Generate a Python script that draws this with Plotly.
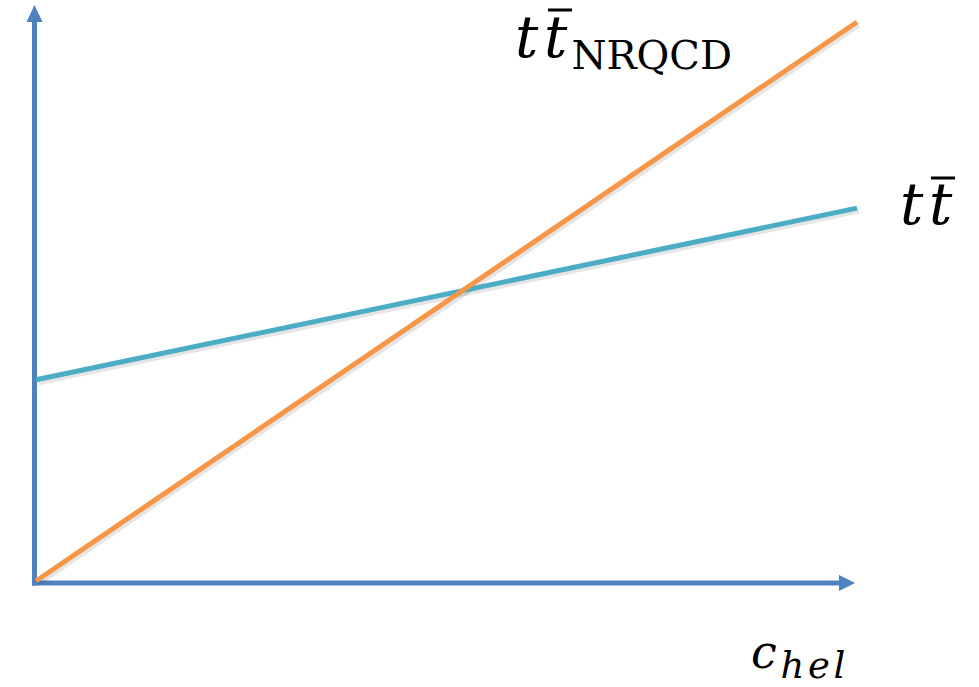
import plotly.graph_objects as go

# data (x in 0..1 units of c_hel, y in arbitrary units)
x_vals = [0.0, 1.0]
tt_nrqcd = [0.0, 1.0]
tt = [0.36, 0.667]

W, H = 979, 687
# pixel mapping: x=0 -> 36px, x=1 -> 857px ; y=0 -> 581px, y=1 -> 22px
x0p, x1p = 36, 857
y0p, y1p = 581, 22
sx = x1p - x0p
sy = y0p - y1p
xr = [-x0p / sx, (W - x0p) / sx]
yr = [-(H - y0p) / sy, y0p / sy]

def px(p):
    return (p - x0p) / sx

def py(p):
    return (y0p - p) / sy

AX = "#4F81BD"
ORANGE = "#F79646"
TEAL = "#4BACC6"

fig = go.Figure()
# faint shadows
fig.add_trace(go.Scatter(x=[v + 2 / sx for v in x_vals], y=[v - 3 / sy for v in tt_nrqcd], mode="lines",
                         line=dict(color="rgba(0,0,0,0.10)", width=5), hoverinfo="skip", showlegend=False))
fig.add_trace(go.Scatter(x=[v + 2 / sx for v in x_vals], y=[v - 3 / sy for v in tt], mode="lines",
                         line=dict(color="rgba(0,0,0,0.10)", width=5), hoverinfo="skip", showlegend=False))
fig.add_trace(go.Scatter(x=x_vals, y=tt, mode="lines", line=dict(color=TEAL, width=5),
                         name="tt", showlegend=False))
fig.add_trace(go.Scatter(x=x_vals, y=tt_nrqcd, mode="lines", line=dict(color=ORANGE, width=5),
                         name="tt NRQCD", showlegend=False))

shapes = []
# axes
shapes.append(dict(type="line", x0=px(34.5), x1=px(34.5), y0=py(585.5), y1=py(20),
                   line=dict(color=AX, width=5), layer="below"))
shapes.append(dict(type="line", x0=px(32), x1=px(842), y0=py(583), y1=py(583),
                   line=dict(color=AX, width=5), layer="below"))
shapes.append(dict(type="path",
                   path=f"M {px(26.5)} {py(22)} L {px(34.5)} {py(5)} L {px(42.5)} {py(22)} Z",
                   fillcolor=AX, line=dict(width=0), layer="below"))
shapes.append(dict(type="path",
                   path=f"M {px(839)} {py(575)} L {px(855)} {py(583)} L {px(839)} {py(591)} Z",
                   fillcolor=AX, line=dict(width=0), layer="below"))
# overline bars of the t-bar symbols
shapes.append(dict(type="line", xref="paper", yref="paper", x0=548 / W, x1=572 / W,
                   y0=1 - 10 / H, y1=1 - 10 / H, line=dict(color="black", width=3)))
shapes.append(dict(type="line", xref="paper", yref="paper", x0=931 / W, x1=955 / W,
                   y0=1 - 178 / H, y1=1 - 178 / H, line=dict(color="black", width=3)))

HS = "\u200a"
FONT = "DejaVu Serif"
ann = []
ann.append(dict(text=f"<i>t{HS}t</i><sub><span style='font-size:40px'>{HS}NRQCD</span></sub>",
                x=513 / W, y=1 - 80 / H, xref="paper", yref="paper",
                xanchor="left", yanchor="bottom", showarrow=False,
                font=dict(family=FONT, size=58, color="black")))
ann.append(dict(text=f"<i>t{HS}t</i>", x=898 / W, y=1 - 240 / H, xref="paper", yref="paper",
                xanchor="left", yanchor="bottom", showarrow=False,
                font=dict(family=FONT, size=58, color="black")))
ann.append(dict(text=f"<i>c</i><sub><span style='font-size:37px'><i>{HS}h{HS}e{HS}l</i></span></sub>",
                x=749 / W, y=1 - 689 / H, xref="paper", yref="paper",
                xanchor="left", yanchor="bottom", showarrow=False,
                font=dict(family=FONT, size=46, color="black")))

fig.update_layout(
    width=W, height=H, margin=dict(l=0, r=0, t=0, b=0),
    paper_bgcolor="white", plot_bgcolor="white",
    xaxis=dict(range=xr, visible=False, fixedrange=True),
    yaxis=dict(range=yr, visible=False, fixedrange=True),
    shapes=shapes, annotations=ann, showlegend=False,
)
fig.write_html("out.html", config={"displayModeBar": False},
               post_script="document.body.style.margin='0';")
